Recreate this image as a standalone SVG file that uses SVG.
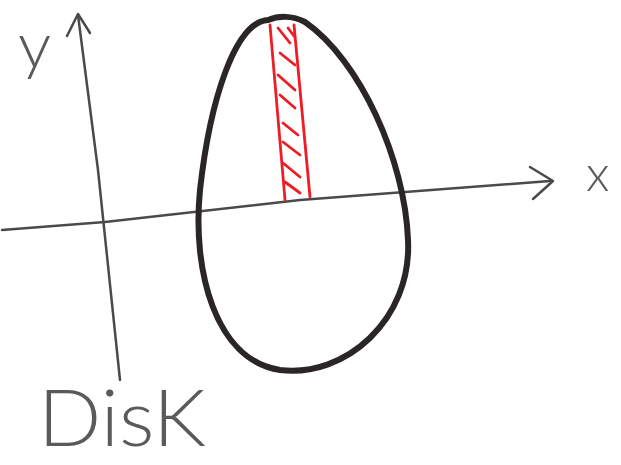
<svg xmlns="http://www.w3.org/2000/svg" width="621" height="465" viewBox="0 0 621 465">
<style>
.axis{fill:none;stroke:#4a4a4a;stroke-width:2.5;stroke-linecap:round;stroke-linejoin:round}
.egg{fill:none;stroke:#2b2626;stroke-width:6;stroke-linejoin:round}
.red{fill:none;stroke:#ee1c25;stroke-width:2.8;stroke-linecap:round}
.lbl{font-family:Lato,"Liberation Sans",sans-serif;font-weight:300;fill:#5a5a5a}
</style>
<rect width="621" height="465" fill="#ffffff"/>
<g id="connectors">
<path class="axis" d="M2 230 L105 222 L300 200 L550 181"/>
<path class="axis" d="M530 167 L553 181 L533 199"/>
<path class="axis" d="M78 15 L98 170 L120 380"/>
<path class="axis" d="M67 36 L78 14 L90 33"/>
</g>
<g id="egg">
<path class="egg" d="M268 20 C235 22 210 100 200 190 C192 270 215 360 280 370 C345 378 412 320 408 240 C405 160 360 60 305 22 C292 15 278 16 268 20 Z"/>
</g>
<g id="strip">
<path class="red" d="M270 25 L285 200 M294 25 L310 197"/>
<path class="red" d="M278 28 L290 43 M280 53 L295 65 M278 75 L295 90 M280 95 L295 108 M283 123 L298 135 M283 142 L300 155 M283 163 L300 177 M285 182 L300 193 M288 28 L294 36"/>
</g>
<g id="labels">
<text class="lbl" x="18" y="68" font-size="66">y</text>
<text class="lbl" x="586" y="191" font-size="50">x</text>
<text class="lbl" x="38" y="446" font-size="78" textLength="168" lengthAdjust="spacingAndGlyphs">DisK</text>
</g>
</svg>
